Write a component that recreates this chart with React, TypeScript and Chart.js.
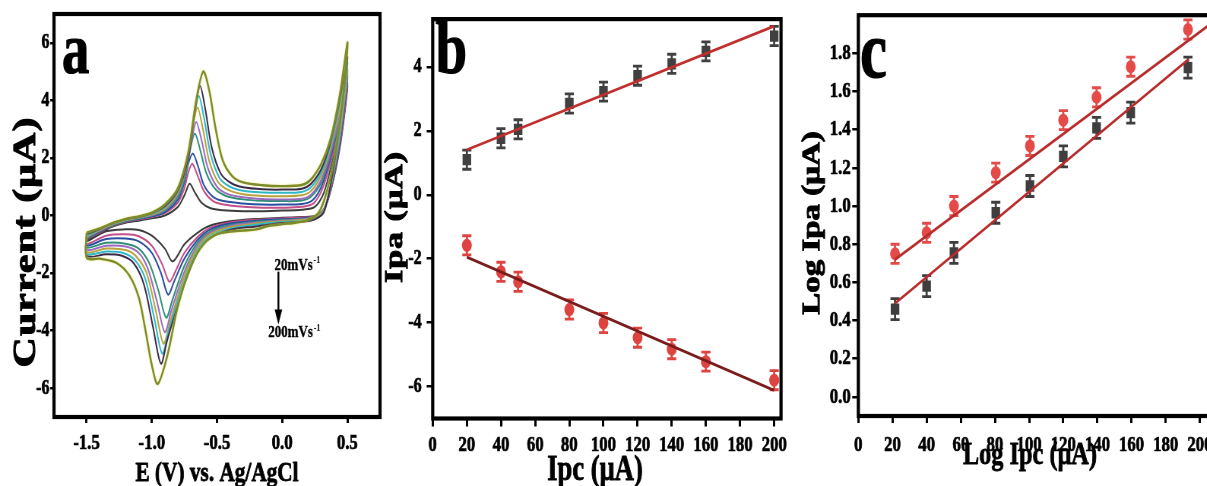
import React, { useEffect, useRef } from "react";
import { Chart, registerables } from "chart.js";

Chart.register(...registerables);

const S = 0.76; // horizontal squeeze of the original figure
const H = 486;
const FONT = "'Liberation Serif', 'Times New Roman', serif";

type Pt = [number, number];

// ---------------- Panel a : cyclic voltammograms ----------------
const CV_RATES = ["20", "40", "50", "80", "100", "120", "140", "160", "200"];

const CV_20: Pt[] = [
  [-1.5, -0.85], [-1.4, -0.6], [-1.3, -0.38], [-1.2, -0.25], [-1.1, -0.18], [-1.0, -0.1], [-0.9, 0.0], [-0.8, 0.3],
  [-0.75, 0.7], [-0.71, 1.1], [-0.67, 0.8], [-0.62, 0.45], [-0.55, 0.25], [-0.45, 0.18], [-0.3, 0.15], [-0.15, 0.15],
  [0.0, 0.17], [0.15, 0.2], [0.25, 0.3], [0.32, 0.8], [0.38, 1.8], [0.44, 3.0], [0.5, 4.5],
  [0.48, 3.6], [0.44, 2.3], [0.38, 1.0], [0.32, 0.2], [0.25, -0.02], [0.15, -0.05], [0.0, -0.08], [-0.2, -0.12],
  [-0.4, -0.2], [-0.55, -0.35], [-0.65, -0.6], [-0.75, -1.0], [-0.84, -1.6], [-0.9, -1.15], [-1.0, -0.7],
  [-1.1, -0.5], [-1.2, -0.48], [-1.35, -0.55], [-1.5, -0.9], [-1.5, -0.85],
];
const CV_40: Pt[] = [
  [-1.5, -0.82], [-1.4, -0.58], [-1.3, -0.36], [-1.2, -0.22], [-1.1, -0.14], [-1.0, -0.05], [-0.9, 0.08], [-0.8, 0.45],
  [-0.75, 0.95], [-0.72, 1.5], [-0.69, 1.8], [-0.65, 1.4], [-0.6, 0.85], [-0.53, 0.5], [-0.45, 0.38], [-0.3, 0.3],
  [-0.15, 0.27], [0.0, 0.27], [0.15, 0.3], [0.24, 0.42], [0.31, 0.95], [0.38, 2.0], [0.44, 3.2], [0.5, 4.6],
  [0.48, 3.7], [0.44, 2.4], [0.38, 1.05], [0.32, 0.22], [0.25, -0.03], [0.15, -0.07], [0.0, -0.1], [-0.2, -0.15],
  [-0.4, -0.24], [-0.55, -0.42], [-0.65, -0.75], [-0.75, -1.3], [-0.82, -1.95], [-0.865, -2.3], [-0.92, -1.7],
  [-1.0, -1.05], [-1.1, -0.72], [-1.2, -0.65], [-1.35, -0.7], [-1.5, -1.0], [-1.5, -0.82],
];
const CV_50: Pt[] = [
  [-1.5, -0.8], [-1.4, -0.56], [-1.3, -0.34], [-1.2, -0.2], [-1.1, -0.12], [-1.0, -0.03], [-0.9, 0.12], [-0.8, 0.55],
  [-0.75, 1.15], [-0.72, 1.8], [-0.685, 2.15], [-0.645, 1.7], [-0.6, 1.05], [-0.53, 0.65], [-0.45, 0.5], [-0.3, 0.42],
  [-0.15, 0.38], [0.0, 0.38], [0.15, 0.4], [0.23, 0.52], [0.3, 1.0], [0.37, 2.0], [0.44, 3.3], [0.5, 4.8],
  [0.48, 3.9], [0.44, 2.5], [0.38, 1.1], [0.32, 0.22], [0.25, -0.05], [0.15, -0.1], [0.0, -0.13], [-0.2, -0.18],
  [-0.4, -0.28], [-0.55, -0.48], [-0.65, -0.85], [-0.75, -1.5], [-0.83, -2.3], [-0.875, -2.75], [-0.93, -2.0],
  [-1.0, -1.3], [-1.1, -0.9], [-1.2, -0.8], [-1.35, -0.82], [-1.5, -1.05], [-1.5, -0.8],
];
const CV_80: Pt[] = [
  [-1.5, -0.78], [-1.4, -0.54], [-1.3, -0.32], [-1.2, -0.18], [-1.1, -0.1], [-1.0, 0.0], [-0.9, 0.17], [-0.8, 0.65],
  [-0.74, 1.4], [-0.705, 2.3], [-0.67, 2.85], [-0.63, 2.3], [-0.58, 1.45], [-0.51, 0.9], [-0.43, 0.68], [-0.3, 0.56],
  [-0.15, 0.51], [0.0, 0.5], [0.15, 0.52], [0.22, 0.65], [0.3, 1.15], [0.37, 2.1], [0.44, 3.4], [0.5, 4.9],
  [0.48, 4.0], [0.44, 2.6], [0.38, 1.15], [0.32, 0.2], [0.25, -0.07], [0.15, -0.12], [0.0, -0.16], [-0.2, -0.22],
  [-0.4, -0.33], [-0.55, -0.55], [-0.65, -0.95], [-0.75, -1.75], [-0.84, -2.9], [-0.89, -3.55], [-0.95, -2.6],
  [-1.02, -1.65], [-1.1, -1.15], [-1.2, -0.98], [-1.35, -0.95], [-1.5, -1.12], [-1.5, -0.78],
];
const CV_100: Pt[] = [
  [-1.5, -0.75], [-1.4, -0.52], [-1.3, -0.3], [-1.2, -0.16], [-1.1, -0.08], [-1.0, 0.02], [-0.9, 0.2], [-0.8, 0.72],
  [-0.74, 1.55], [-0.695, 2.6], [-0.66, 3.25], [-0.62, 2.65], [-0.57, 1.65], [-0.5, 1.0], [-0.42, 0.75], [-0.3, 0.63],
  [-0.15, 0.57], [0.0, 0.56], [0.15, 0.58], [0.22, 0.72], [0.3, 1.25], [0.37, 2.2], [0.44, 3.5], [0.5, 5.0],
  [0.48, 4.1], [0.44, 2.7], [0.38, 1.2], [0.32, 0.2], [0.25, -0.08], [0.15, -0.14], [0.0, -0.18], [-0.2, -0.25],
  [-0.4, -0.37], [-0.55, -0.6], [-0.65, -1.05], [-0.75, -1.95], [-0.85, -3.3], [-0.9, -4.05], [-0.96, -3.0],
  [-1.03, -1.85], [-1.1, -1.3], [-1.2, -1.08], [-1.35, -1.05], [-1.5, -1.2], [-1.5, -0.75],
];
const CV_120: Pt[] = [
  [-1.5, -0.72], [-1.4, -0.5], [-1.3, -0.28], [-1.2, -0.15], [-1.1, -0.07], [-1.0, 0.04], [-0.9, 0.24], [-0.8, 0.78],
  [-0.735, 1.7], [-0.69, 2.95], [-0.65, 3.75], [-0.61, 3.05], [-0.56, 1.9], [-0.49, 1.15], [-0.41, 0.88], [-0.3, 0.74],
  [-0.15, 0.68], [0.0, 0.67], [0.15, 0.7], [0.22, 0.85], [0.3, 1.4], [0.37, 2.35], [0.44, 3.7], [0.5, 5.1],
  [0.48, 4.2], [0.44, 2.8], [0.38, 1.2], [0.32, 0.18], [0.25, -0.1], [0.15, -0.16], [0.0, -0.2], [-0.2, -0.28],
  [-0.4, -0.41], [-0.55, -0.65], [-0.65, -1.12], [-0.75, -2.1], [-0.86, -3.7], [-0.91, -4.45], [-0.97, -3.3],
  [-1.04, -2.0], [-1.12, -1.42], [-1.2, -1.2], [-1.35, -1.15], [-1.5, -1.27], [-1.5, -0.72],
];
const CV_140: Pt[] = [
  [-1.5, -0.7], [-1.4, -0.48], [-1.3, -0.27], [-1.2, -0.14], [-1.1, -0.06], [-1.0, 0.06], [-0.9, 0.28], [-0.8, 0.84],
  [-0.73, 1.85], [-0.68, 3.3], [-0.64, 4.15], [-0.6, 3.4], [-0.55, 2.15], [-0.48, 1.3], [-0.4, 1.0], [-0.3, 0.86],
  [-0.15, 0.8], [0.0, 0.79], [0.15, 0.82], [0.22, 0.98], [0.3, 1.5], [0.37, 2.45], [0.44, 3.85], [0.5, 5.3],
  [0.48, 4.4], [0.44, 2.9], [0.38, 1.25], [0.32, 0.15], [0.25, -0.12], [0.15, -0.19], [0.0, -0.23], [-0.2, -0.32],
  [-0.4, -0.46], [-0.55, -0.72], [-0.65, -1.2], [-0.75, -2.25], [-0.87, -4.0], [-0.92, -4.8], [-0.98, -3.6],
  [-1.05, -2.2], [-1.13, -1.55], [-1.22, -1.3], [-1.35, -1.25], [-1.5, -1.33], [-1.5, -0.7],
];
const CV_160: Pt[] = [
  [-1.5, -0.65], [-1.4, -0.47], [-1.3, -0.26], [-1.2, -0.13], [-1.1, -0.05], [-1.0, 0.08], [-0.9, 0.32], [-0.8, 0.88],
  [-0.72, 2.0], [-0.67, 3.6], [-0.63, 4.5], [-0.59, 3.7], [-0.54, 2.35], [-0.47, 1.45], [-0.39, 1.12], [-0.3, 0.98],
  [-0.15, 0.91], [0.0, 0.9], [0.15, 0.93], [0.22, 1.1], [0.3, 1.62], [0.37, 2.55], [0.44, 4.0], [0.5, 5.5],
  [0.48, 4.6], [0.44, 3.1], [0.38, 1.3], [0.32, 0.12], [0.25, -0.13], [0.15, -0.22], [0.0, -0.26], [-0.2, -0.38],
  [-0.4, -0.5], [-0.55, -0.78], [-0.65, -1.3], [-0.75, -2.4], [-0.88, -4.3], [-0.93, -5.15], [-0.99, -3.9],
  [-1.06, -2.4], [-1.14, -1.65], [-1.23, -1.4], [-1.35, -1.35], [-1.5, -1.4], [-1.5, -0.65],
];
const CV_200: Pt[] = [
  [-1.5, -0.6], [-1.4, -0.45], [-1.3, -0.27], [-1.2, -0.12], [-1.1, -0.03], [-1.0, 0.1], [-0.9, 0.38], [-0.8, 0.95],
  [-0.72, 2.2], [-0.66, 4.0], [-0.605, 5.0], [-0.56, 4.35], [-0.51, 3.0], [-0.455, 1.9], [-0.38, 1.35], [-0.3, 1.15],
  [-0.15, 1.05], [0.0, 1.02], [0.15, 1.06], [0.22, 1.25], [0.3, 1.8], [0.37, 2.65], [0.44, 4.15], [0.5, 6.0],
  [0.49, 5.2], [0.45, 3.5], [0.4, 2.0], [0.34, 0.8], [0.28, 0.1], [0.2, -0.15], [0.1, -0.25], [0.0, -0.3],
  [-0.1, -0.36], [-0.2, -0.48], [-0.3, -0.52], [-0.4, -0.56], [-0.5, -0.65], [-0.6, -0.98], [-0.7, -1.75],
  [-0.8, -3.15], [-0.88, -4.85], [-0.955, -5.85], [-1.0, -5.2], [-1.05, -3.95], [-1.1, -2.85], [-1.17, -2.1],
  [-1.27, -1.65], [-1.4, -1.5], [-1.5, -1.47], [-1.5, -0.6],
];
const CV_CURVES: Pt[][] = [CV_20, CV_40, CV_50, CV_80, CV_100, CV_120, CV_140, CV_160, CV_200];
const CV_COLORS = ["#3d3d3d", "#c2508a", "#2a4fa0", "#2f8f78", "#9a6cc0", "#b8a23a", "#2fb7c8", "#3a2a4a", "#7c8c2c"];
const A_X_TICKS = [-1.5, -1.0, -0.5, 0.0, 0.5];
const A_Y_TICKS = [-6, -4, -2, 0, 2, 4, 6];
const A_ANNOT_TOP = { x: 0.117, y: -1.74, text: "20mVs", sup: "-1" };
const A_ANNOT_BOTTOM = { x: 0.094, y: -4.07, text: "200mVs", sup: "-1" };
const A_ARROW = { x: -0.029, from: -1.95, to: -3.79 };

// ---------------- Panel b : Ipa / Ipc vs scan rate ----------------
const B_X = [20, 40, 50, 80, 100, 120, 140, 160, 200];
const B_IPA = [1.1, 1.77, 2.05, 2.86, 3.23, 3.73, 4.1, 4.49, 4.97];
const B_IPC = [-1.58, -2.41, -2.72, -3.59, -4.01, -4.47, -4.83, -5.22, -5.8];
const B_ERR_IPA = [0.3, 0.3, 0.3, 0.3, 0.3, 0.3, 0.3, 0.3, 0.3];
const B_ERR_IPC = [0.3, 0.3, 0.3, 0.3, 0.3, 0.3, 0.3, 0.3, 0.3];
const B_FIT_X = [20, 200];
const B_FIT_IPA = [1.41, 5.28];
const B_FIT_IPC = [-1.95, -6.12];
const B_X_TICKS = [0, 20, 40, 60, 80, 100, 120, 140, 160, 180, 200];
const B_Y_TICKS = [-6, -4, -2, 0, 2, 4];

// ---------------- Panel c : log–log ----------------
const C_X = [21.5, 40, 56, 80.5, 100.5, 120, 139.5, 159.5, 193];
const C_RED = [0.75, 0.86, 1.0, 1.175, 1.315, 1.45, 1.57, 1.73, 1.925];
const C_BLACK = [0.46, 0.58, 0.755, 0.965, 1.105, 1.26, 1.41, 1.49, 1.725];
const C_ERR_RED = [0.05, 0.05, 0.05, 0.05, 0.05, 0.05, 0.05, 0.05, 0.05];
const C_ERR_BLACK = [0.055, 0.055, 0.055, 0.055, 0.055, 0.055, 0.055, 0.055, 0.055];
const C_FIT_RED_X = [21.5, 206];
const C_FIT_RED = [0.72, 1.953];
const C_FIT_BLACK_X = [21.5, 193.5];
const C_FIT_BLACK = [0.49, 1.77];
const C_X_TICKS = [0, 20, 40, 60, 80, 100, 120, 140, 160, 180, 200];
const C_Y_TICKS = [0, 0.2, 0.4, 0.6, 0.8, 1.0, 1.2, 1.4, 1.6, 1.8];

// ---------------- layout (final page px) ----------------
type Layout = { left: number; width: number; plotLeft: number; plotRight: number; plotTop: number; plotBottom: number };
const LAYOUT_A: Layout = { left: 0, width: 395, plotLeft: 54, plotRight: 380, plotTop: 14, plotBottom: 417 };
const LAYOUT_B: Layout = { left: 380, width: 412, plotLeft: 432.7, plotRight: 781, plotTop: 14.5, plotBottom: 418.5 };
const LAYOUT_C: Layout = { left: 795, width: 425, plotLeft: 858.3, plotRight: 1210, plotTop: 14, plotBottom: 416 };

const preW = (L: Layout) => Math.round(L.width / S);
const toPre = (L: Layout, fx: number) => (fx - L.left) / S;

function axis(
  min: number, max: number, vals: number[], fmt: (v: number) => string, size: number,
  tickLen: number, tickW: number, pad: number, afterFit: (s: any) => void
) {
  return {
    type: "linear",
    min,
    max,
    afterBuildTicks: (s: any) => {
      s.ticks = vals.map((v) => ({ value: v }));
    },
    afterFit,
    grid: {
      display: true,
      drawOnChartArea: false,
      drawTicks: true,
      tickLength: tickLen,
      tickWidth: tickW,
      tickColor: "#000",
      color: "#000",
      lineWidth: tickW,
    },
    border: { display: false },
    ticks: {
      autoSkip: false,
      maxRotation: 0,
      minRotation: 0,
      padding: pad,
      color: "#000",
      textStrokeColor: "#000",
      textStrokeWidth: 0.7,
      font: { family: FONT, size, weight: "bold" },
      callback: (v: any) => fmt(Number(v)),
    },
  };
}

function baseOptions(L: Layout, x: any, y: any) {
  const W = preW(L);
  const pr = toPre(L, L.plotRight);
  return {
    responsive: false,
    animation: false,
    events: [],
    layout: { padding: { left: 0, right: W - pr, top: L.plotTop, bottom: 0 }, autoPadding: false },
    plugins: { legend: { display: false }, tooltip: { enabled: false } },
    scales: { x, y },
  };
}

const framePlugin = {
  id: "frame",
  afterDatasetsDraw(chart: any) {
    const { ctx, chartArea: a } = chart;
    ctx.save();
    ctx.strokeStyle = "#000";
    ctx.lineWidth = 4.2;
    ctx.strokeRect(a.left, a.top, a.right - a.left, a.bottom - a.top);
    ctx.restore();
  },
};

function errorBarPlugin(sets: { index: number; values: number[]; err: number[]; color: string }[]) {
  return {
    id: "errbars",
    beforeDatasetsDraw(chart: any) {
      const { ctx } = chart;
      const ys = chart.scales.y;
      ctx.save();
      for (const s of sets) {
        const meta = chart.getDatasetMeta(s.index);
        ctx.strokeStyle = s.color;
        ctx.lineWidth = 2.8;
        meta.data.forEach((el: any, i: number) => {
          const x = el.x;
          const y1 = ys.getPixelForValue(s.values[i] + s.err[i]);
          const y2 = ys.getPixelForValue(s.values[i] - s.err[i]);
          ctx.beginPath();
          ctx.moveTo(x, y1);
          ctx.lineTo(x, y2);
          ctx.moveTo(x - 6, y1);
          ctx.lineTo(x + 6, y1);
          ctx.moveTo(x - 6, y2);
          ctx.lineTo(x + 6, y2);
          ctx.stroke();
        });
      }
      ctx.restore();
    },
  };
}

function textPlugin(L: Layout, draw: (ctx: CanvasRenderingContext2D, chart: any, px: (fx: number) => number) => void) {
  return {
    id: "texts",
    afterDraw(chart: any) {
      const ctx = chart.ctx as CanvasRenderingContext2D;
      ctx.save();
      ctx.fillStyle = "#000";
      ctx.strokeStyle = "#000";
      draw(ctx, chart, (fx: number) => toPre(L, fx));
      ctx.restore();
    },
  };
}

function fillBold(ctx: CanvasRenderingContext2D, t: string, x: number, y: number, stroke: number) {
  ctx.fillText(t, x, y);
  if (stroke > 0) {
    ctx.lineWidth = stroke;
    ctx.lineJoin = "round";
    ctx.strokeText(t, x, y);
  }
}

function drawLetter(ctx: CanvasRenderingContext2D, t: string, x: number, baseline: number, size: number) {
  ctx.font = `bold ${size}px ${FONT}`;
  ctx.textAlign = "left";
  ctx.textBaseline = "alphabetic";
  fillBold(ctx, t, x, baseline, 1.2);
}

function drawXTitle(ctx: CanvasRenderingContext2D, t: string, cx: number, baseline: number, size: number) {
  ctx.font = `bold ${size}px ${FONT}`;
  ctx.textAlign = "center";
  ctx.textBaseline = "alphabetic";
  fillBold(ctx, t, cx, baseline, 0.8);
}

function drawYTitle(ctx: CanvasRenderingContext2D, t: string, baselineX: number, cy: number, size: number, spacing: number) {
  ctx.save();
  ctx.translate(baselineX, cy);
  ctx.rotate(-Math.PI / 2);
  ctx.font = `bold ${size}px ${FONT}`;
  (ctx as any).letterSpacing = `${spacing}px`;
  ctx.textAlign = "center";
  ctx.textBaseline = "alphabetic";
  fillBold(ctx, t, 0, 0, 1.2);
  ctx.restore();
}

function drawSupLabel(ctx: CanvasRenderingContext2D, text: string, sup: string, cx: number, cy: number) {
  ctx.font = `bold 17px ${FONT}`;
  const w1 = ctx.measureText(text).width;
  ctx.font = `bold 11px ${FONT}`;
  const w2 = ctx.measureText(sup).width;
  const x0 = cx - (w1 + w2 + 1) / 2;
  ctx.textAlign = "left";
  ctx.textBaseline = "middle";
  ctx.font = `bold 17px ${FONT}`;
  fillBold(ctx, text, x0, cy, 0.4);
  ctx.font = `bold 11px ${FONT}`;
  ctx.fillText(sup, x0 + w1 + 1, cy - 5);
}

// ---------------- chart builders ----------------
function buildA(): any {
  const L = LAYOUT_A;
  const pl = toPre(L, L.plotLeft);
  const x = axis(-1.75, 0.75, A_X_TICKS, (v) => v.toFixed(1), 22, 6, 3, 6.8, (s: any) => {
    s.height = H - L.plotBottom;
  });
  const y = axis(-7, 7, A_Y_TICKS, (v) => String(v), 21, 5, 2.5, 1, (s: any) => {
    s.width = pl;
  });
  const halo = {
    id: "halo",
    beforeDatasetDraw(chart: any, args: any) {
      if (args.index === CV_CURVES.length - 1) {
        chart.ctx.save();
        chart.ctx.shadowColor = "rgba(225,215,70,0.8)";
        chart.ctx.shadowBlur = 2;
      }
    },
    afterDatasetDraw(chart: any, args: any) {
      if (args.index === CV_CURVES.length - 1) chart.ctx.restore();
    },
  };
  return {
    type: "scatter",
    data: {
      datasets: CV_CURVES.map((c, i) => ({
        label: CV_RATES[i] + " mV/s",
        data: c.map(([px, py]) => ({ x: px, y: py })),
        showLine: true,
        borderColor: CV_COLORS[i],
        backgroundColor: CV_COLORS[i],
        borderWidth: i === CV_CURVES.length - 1 ? 2.4 : 2,
        pointRadius: 0,
        tension: 0.3,
        borderJoinStyle: "round",
        order: CV_CURVES.length - i,
      })),
    },
    options: baseOptions(L, x, y),
    plugins: [
      halo,
      framePlugin,
      textPlugin(L, (ctx, chart, px) => {
        const xs = chart.scales.x;
        const ys = chart.scales.y;
        drawLetter(ctx, "a", px(62), 73, 72);
        drawXTitle(ctx, "E (V) vs. Ag/AgCl", px(217), 481, 28);
        drawYTitle(ctx, "Current (μA)", px(35), 242, 42, 1);
        drawSupLabel(ctx, A_ANNOT_TOP.text, A_ANNOT_TOP.sup, xs.getPixelForValue(A_ANNOT_TOP.x), ys.getPixelForValue(A_ANNOT_TOP.y));
        drawSupLabel(ctx, A_ANNOT_BOTTOM.text, A_ANNOT_BOTTOM.sup, xs.getPixelForValue(A_ANNOT_BOTTOM.x), ys.getPixelForValue(A_ANNOT_BOTTOM.y));
        const ax = xs.getPixelForValue(A_ARROW.x);
        const ay1 = ys.getPixelForValue(A_ARROW.from);
        const ay2 = ys.getPixelForValue(A_ARROW.to);
        ctx.lineWidth = 2.4;
        ctx.beginPath();
        ctx.moveTo(ax, ay1);
        ctx.lineTo(ax, ay2 - 10);
        ctx.stroke();
        ctx.beginPath();
        ctx.moveTo(ax - 5, ay2 - 15);
        ctx.lineTo(ax + 5, ay2 - 15);
        ctx.lineTo(ax, ay2);
        ctx.closePath();
        ctx.fill();
      }),
    ],
  };
}

function buildB(): any {
  const L = LAYOUT_B;
  const pl = toPre(L, L.plotLeft);
  const x = axis(0, 204, B_X_TICKS, (v) => String(v), 22, 8, 3, 5.3, (s: any) => {
    s.height = H - L.plotBottom;
  });
  const y = axis(-7, 5.5, B_Y_TICKS, (v) => String(v), 21, 8, 2.5, 6.5, (s: any) => {
    s.width = pl;
  });
  return {
    type: "scatter",
    data: {
      datasets: [
        {
          label: "fit Ipa",
          data: B_FIT_X.map((v, i) => ({ x: v, y: B_FIT_IPA[i] })),
          showLine: true,
          borderColor: "#c22e2e",
          borderWidth: 2.8,
          pointRadius: 0,
        },
        {
          label: "fit Ipc",
          data: B_FIT_X.map((v, i) => ({ x: v, y: B_FIT_IPC[i] })),
          showLine: true,
          borderColor: "#7a1c1c",
          borderWidth: 2.8,
          pointRadius: 0,
        },
        {
          label: "Ipa",
          data: B_X.map((v, i) => ({ x: v, y: B_IPA[i] })),
          pointStyle: "rect",
          pointRadius: 8,
          backgroundColor: "#404040",
          borderColor: "#404040",
          borderWidth: 0,
        },
        {
          label: "Ipc",
          data: B_X.map((v, i) => ({ x: v, y: B_IPC[i] })),
          pointStyle: "circle",
          pointRadius: 6.5,
          backgroundColor: "#dd4440",
          borderColor: "#dd4440",
          borderWidth: 0,
        },
      ],
    },
    options: baseOptions(L, x, y),
    plugins: [
      errorBarPlugin([
        { index: 2, values: B_IPA, err: B_ERR_IPA, color: "#404040" },
        { index: 3, values: B_IPC, err: B_ERR_IPC, color: "#dd4440" },
      ]),
      framePlugin,
      textPlugin(L, (ctx, _chart, px) => {
        drawLetter(ctx, "b", px(435.5), 73, 75);
        drawXTitle(ctx, "Ipc (μA)", px(595), 480, 35);
        drawYTitle(ctx, "Ipa (μA)", px(402), 217, 34, 1);
      }),
    ],
  };
}

function buildC(): any {
  const L = LAYOUT_C;
  const pl = toPre(L, L.plotLeft);
  const xmax = (L.plotRight - L.plotLeft) / 1.708;
  const x = axis(0, xmax, C_X_TICKS, (v) => String(v), 22, 7, 3, 8.8, (s: any) => {
    s.height = H - L.plotBottom;
  });
  const y = axis(-0.1, 2.0, C_Y_TICKS, (v) => v.toFixed(1), 22, 8, 2.5, 2, (s: any) => {
    s.width = pl;
  });
  return {
    type: "scatter",
    data: {
      datasets: [
        {
          label: "fit red",
          data: C_FIT_RED_X.map((v, i) => ({ x: v, y: C_FIT_RED[i] })),
          showLine: true,
          borderColor: "#b82c2c",
          borderWidth: 2.8,
          pointRadius: 0,
        },
        {
          label: "fit black",
          data: C_FIT_BLACK_X.map((v, i) => ({ x: v, y: C_FIT_BLACK[i] })),
          showLine: true,
          borderColor: "#b82c2c",
          borderWidth: 2.8,
          pointRadius: 0,
        },
        {
          label: "log Ipa",
          data: C_X.map((v, i) => ({ x: v, y: C_BLACK[i] })),
          pointStyle: "rect",
          pointRadius: 8,
          backgroundColor: "#3e3e3e",
          borderColor: "#3e3e3e",
          borderWidth: 0,
        },
        {
          label: "log Ipc",
          data: C_X.map((v, i) => ({ x: v, y: C_RED[i] })),
          pointStyle: "circle",
          pointRadius: 6.5,
          backgroundColor: "#e44a48",
          borderColor: "#e44a48",
          borderWidth: 0,
        },
      ],
    },
    options: baseOptions(L, x, y),
    plugins: [
      errorBarPlugin([
        { index: 2, values: C_BLACK, err: C_ERR_BLACK, color: "#3e3e3e" },
        { index: 3, values: C_RED, err: C_ERR_RED, color: "#e44a48" },
      ]),
      framePlugin,
      textPlugin(L, (ctx, _chart, px) => {
        drawLetter(ctx, "c", px(860), 77, 80);
        drawXTitle(ctx, "Log Ipc (μA)", px(1030), 464, 32);
        drawYTitle(ctx, "Log Ipa (μA)", px(819), 223, 33, 0);
      }),
    ],
  };
}

function Panel({ layout, build }: { layout: Layout; build: () => any }) {
  const ref = useRef<HTMLCanvasElement>(null);
  const W = preW(layout);
  useEffect(() => {
    if (!ref.current) return;
    const chart = new Chart(ref.current, build());
    return () => chart.destroy();
  }, []);
  return (
    <div
      style={{
        position: "absolute",
        left: layout.left,
        top: 0,
        width: W,
        height: H,
        transform: `scaleX(${S})`,
        transformOrigin: "0 0",
      }}
    >
      <canvas ref={ref} width={W} height={H} style={{ display: "block", width: W, height: H }} />
    </div>
  );
}

export default function App() {
  return (
    <div
      style={{
        position: "fixed",
        left: 0,
        top: 0,
        width: 1207,
        height: H,
        overflow: "hidden",
        background: "#fff",
      }}
    >
      <Panel layout={LAYOUT_A} build={buildA} />
      <Panel layout={LAYOUT_B} build={buildB} />
      <Panel layout={LAYOUT_C} build={buildC} />
    </div>
  );
}
